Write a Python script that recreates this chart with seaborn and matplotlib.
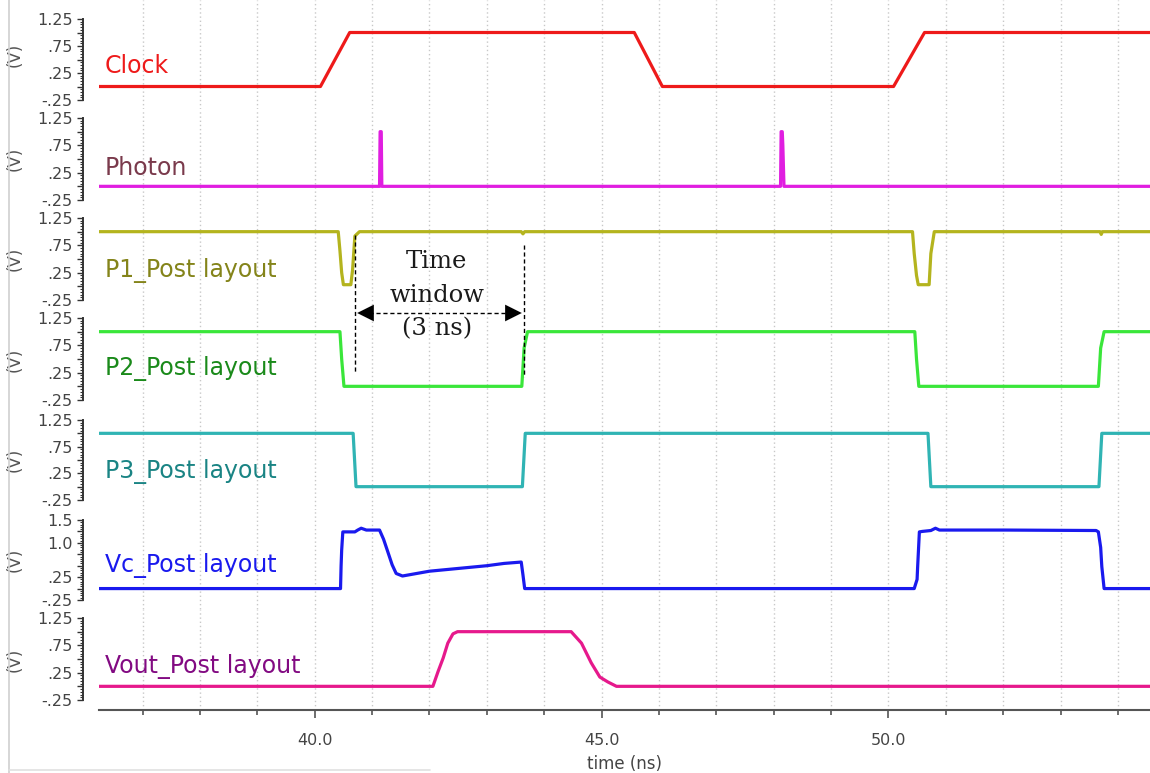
import numpy as np
import pandas as pd
import matplotlib
matplotlib.use("Agg")
import matplotlib.pyplot as plt
import seaborn as sns
from matplotlib.lines import Line2D
from matplotlib.ticker import FixedLocator, MultipleLocator

# ---------------- data (time in ns, values in V) ----------------
clock_t = [36.2, 40.10, 40.61, 45.57, 46.06, 50.09, 50.63, 54.6]
clock_v = [0.0, 0.0, 1.0, 1.0, 0.0, 0.0, 1.0, 1.0]

photon_t = [36.2, 41.13, 41.14, 41.16, 41.17, 48.12, 48.13, 48.15, 48.16, 48.18, 54.6]
photon_v = [0.0, 0.0, 1.0, 1.0, 0.0, 0.0, 1.0, 1.0, 0.75, 0.0, 0.0]

p1_t = [36.2, 40.41, 40.44, 40.47, 40.50, 40.63, 40.66, 40.70, 40.78, 43.60, 43.63, 43.66,
        50.42, 50.45, 50.49, 50.52, 50.71, 50.74, 50.80, 53.69, 53.71, 53.73, 54.6]
p1_v = [1.0, 1.0, 0.65, 0.25, 0.03, 0.03, 0.3, 0.92, 1.0, 1.0, 0.96, 1.0,
        1.0, 0.6, 0.2, 0.03, 0.03, 0.6, 1.0, 1.0, 0.95, 1.0, 1.0]

p2_t = [36.2, 40.44, 40.47, 40.51, 43.61, 43.65, 43.71, 50.46, 50.49, 50.53, 53.66, 53.70, 53.76, 54.6]
p2_v = [1.0, 1.0, 0.5, 0.0, 0.0, 0.7, 1.0, 1.0, 0.5, 0.0, 0.0, 0.7, 1.0, 1.0]

p3_t = [36.2, 40.67, 40.72, 43.62, 43.67, 50.69, 50.74, 53.67, 53.72, 54.6]
p3_v = [1.0, 1.0, 0.0, 0.0, 1.0, 1.0, 0.0, 0.0, 1.0, 1.0]

vc_t = [36.2, 40.45, 40.46, 40.47, 40.49, 40.70, 40.75, 40.81, 40.90, 41.13, 41.20, 41.27, 41.35,
        41.42, 41.53, 42.0, 42.5, 43.0, 43.3, 43.6, 43.63, 43.66,
        50.45, 50.50, 50.51, 50.54, 50.59, 50.74, 50.82, 50.89, 52.04, 53.62, 53.66, 53.70, 53.72, 53.76, 54.6]
vc_v = [0.0, 0.0, 0.5, 0.84, 1.24, 1.24, 1.28, 1.32, 1.28, 1.28, 1.08, 0.82, 0.52,
        0.33, 0.275, 0.38, 0.44, 0.50, 0.55, 0.58, 0.3, 0.0,
        0.0, 0.2, 0.48, 1.24, 1.25, 1.27, 1.32, 1.28, 1.28, 1.27, 1.24, 0.9, 0.48, 0.0, 0.0]

vout_t = [36.2, 42.06, 42.15, 42.24, 42.32, 42.41, 42.49, 44.47, 44.65, 44.82, 44.97, 45.11, 45.26, 54.6]
vout_v = [0.0, 0.0, 0.27, 0.52, 0.79, 0.96, 1.0, 1.0, 0.79, 0.43, 0.17, 0.08, 0.0, 0.0]

names = ["Clock", "Photon", "P1_Post layout", "P2_Post layout", "P3_Post layout",
         "Vc_Post layout", "Vout_Post layout"]
series_t = [clock_t, photon_t, p1_t, p2_t, p3_t, vc_t, vout_t]
series_v = [clock_v, photon_v, p1_v, p2_v, p3_v, vc_v, vout_v]

std_ticks = {1.25: "1.25", 0.75: ".75", 0.25: ".25", -0.25: "-.25"}
vc_ticks = {1.5: "1.5", 1.0: "1.0", 0.25: ".25", -0.25: "-.25"}
tick_sets = [std_ticks] * 5 + [vc_ticks, std_ticks]
xtick_major = [40.0, 45.0, 50.0]
xtick_labels = ["40.0", "45.0", "50.0"]

# ---------------- styling / layout ----------------
line_colors = ["#ee1a1a", "#e01ee0", "#b4b41e", "#3ae63a", "#30b4b4", "#1a1aee", "#e6198c"]
label_colors = ["#ee1a1a", "#7a3a4c", "#84841a", "#1a8a1a", "#1a8484", "#1a1aee", "#820a82"]

W, H = 1150, 773
PX_L, PX_R = 99, 1150
T0, T1 = 36.24, 54.56

# pixel layout: (band top, band bottom, pixel of vtop, pixel of vbot, vtop, vbot)
layout = [
    (0, 109, 19, 100, 1.25, -0.25),
    (109, 209, 118, 200, 1.25, -0.25),
    (209, 309, 218, 300, 1.25, -0.25),
    (309, 410, 318, 400, 1.25, -0.25),
    (410, 510, 420, 500, 1.25, -0.25),
    (510, 609, 520, 600, 1.5, -0.25),
    (609, 710, 618, 700, 1.25, -0.25),
]
label_baselines = [73, 175, 277, 375, 478, 572, 673]

sns.set_theme(style="white")
plt.rcParams['font.family'] = ['DejaVu Sans']

fig = plt.figure(figsize=(W / 100, H / 100), dpi=100)
fig.patch.set_facecolor("white")

axes = []
for i, (bt, bb, pt, pb, vt, vb) in enumerate(layout):
    ax = fig.add_axes([PX_L / W, 1 - bb / H, (PX_R - PX_L) / W, (bb - bt) / H])
    ax.set_facecolor("none")
    s = (pb - pt) / (vt - vb)
    ax.set_ylim(vb - (bb - pb) / s, vt + (pt - bt) / s)
    df = pd.DataFrame({"t": series_t[i], "v": series_v[i]})
    sns.lineplot(data=df, x="t", y="v", ax=ax, color=line_colors[i], linewidth=2.3,
                 estimator=None, sort=False, legend=False)
    ax.set_xlim(T0, T1)
    # x grid
    ax.xaxis.set_major_locator(FixedLocator(xtick_major))
    ax.xaxis.set_minor_locator(MultipleLocator(1.0))
    ax.grid(axis="x", which="both", color="#c8c8c8", linestyle=(0, (1, 2)), linewidth=1.0)
    ax.grid(axis="y", which="both", visible=False)
    # spines
    for sp in ["top", "right"]:
        ax.spines[sp].set_visible(False)
    ax.spines["left"].set_bounds(vb, vt)
    ax.spines["left"].set_position(("outward", 11.5))
    ax.spines["left"].set_color("#333333")
    ax.spines["left"].set_linewidth(1.4)
    # y ticks (ruler)
    majors = list(np.round(np.arange(vb, vt + 1e-6, 0.25), 2))
    minors = list(np.round(np.arange(vb, vt + 1e-6, 0.05), 2))
    ax.yaxis.set_major_locator(FixedLocator(majors))
    ax.yaxis.set_minor_locator(FixedLocator(minors))
    ax.set_yticklabels([tick_sets[i].get(m, "") for m in majors])
    ax.tick_params(axis="y", which="major", left=True, direction="out", length=4.0, width=1.0,
                   color="#333333", labelsize=11.5, labelcolor="#444444", pad=3.5)
    ax.tick_params(axis="y", which="minor", left=True, direction="out", length=2.2, width=0.8,
                   color="#333333")
    ax.set_ylabel("(V)", fontsize=12, color="#555555")
    ax.yaxis.set_label_coords((24 - PX_L) / (PX_R - PX_L), 0.5)
    ax.set_xlabel("")
    if i < len(layout) - 1:
        ax.spines["bottom"].set_visible(False)
        ax.tick_params(axis="x", which="both", bottom=False, labelbottom=False)
    else:
        ax.spines["bottom"].set_color("#555555")
        ax.spines["bottom"].set_linewidth(1.5)
        ax.set_xticklabels(xtick_labels)
        ax.tick_params(axis="x", which="major", bottom=True, direction="out", length=5.5, width=1.2,
                       color="#555555", labelsize=11.5, labelcolor="#444444", pad=11)
        ax.tick_params(axis="x", which="minor", bottom=True, direction="out", length=3.5, width=1.2,
                       color="#555555")
        ax.set_xlabel("time (ns)", fontsize=12, color="#444444", labelpad=5)
    fig.text(105 / W, 1 - label_baselines[i] / H, names[i], ha="left", va="baseline",
             fontsize=17, color=label_colors[i])
    axes.append(ax)

# ---------------- annotation overlay ----------------
ov = fig.add_axes([PX_L / W, 1 - 710 / H, (PX_R - PX_L) / W, 710 / H])
ov.set_xlim(T0, T1)
ov.set_ylim(710, 0)
ov.axis("off")
win_start, win_end = 40.70, 43.65
ov.plot([win_start, win_start], [235, 372], color="black", lw=1.0, ls=(0, (3, 2)))
ov.plot([win_end, win_end], [245, 377], color="black", lw=1.0, ls=(0, (3, 2)))
ov.plot([win_start + 0.25, win_end - 0.25], [313, 313], color="black", lw=1.0, ls=(0, (3, 2)))
ov.annotate("", xy=(win_start + 0.04, 313), xytext=(win_start + 0.4, 313),
            arrowprops=dict(arrowstyle="-|>", color="black", lw=0.01, mutation_scale=30,
                            shrinkA=0, shrinkB=0))
ov.annotate("", xy=(win_end - 0.04, 313), xytext=(win_end - 0.4, 313),
            arrowprops=dict(arrowstyle="-|>", color="black", lw=0.01, mutation_scale=30,
                            shrinkA=0, shrinkB=0))
tc = 42.13
for txt, yb in [("Time", 268), ("window", 302), ("(3 ns)", 335)]:
    ov.text(tc, yb, txt, ha="center", va="baseline", fontsize=17.5, color="#1a1a1a",
            family=["DejaVu Serif"])

# screenshot frame lines
fig.add_artist(Line2D([8.5 / W, 8.5 / W], [0, 1], color="#d0d0d0", lw=1.2, transform=fig.transFigure))
fig.add_artist(Line2D([8.5 / W, 430 / W], [1 - 770 / H, 1 - 770 / H], color="#e0e0e0", lw=1.2,
                      transform=fig.transFigure))

fig.savefig("out.png", dpi=100, facecolor="white")
